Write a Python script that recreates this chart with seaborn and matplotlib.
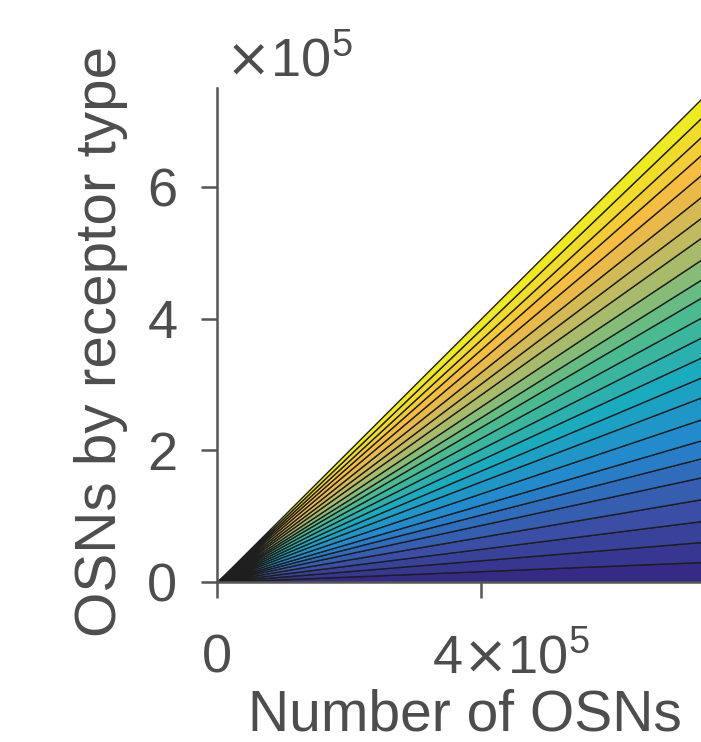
import matplotlib
matplotlib.use("Agg")
import matplotlib.pyplot as plt
import matplotlib.transforms as mtransforms
import numpy as np
import seaborn as sns

# total number of OSNs (x) at which the stacked shares are drawn
osn_total = [0, 250000, 500000, 750000]

# share of OSNs per receptor type, bottom band -> top band (percent)
receptor_share = [4.1, 4.1, 4.3, 4.5, 4.5, 3.9, 3.7, 4.3, 4.5, 4.1, 4.1, 4.1,
                  4.1, 4.1, 3.7, 4.1, 4.5, 4.1, 4.3, 4.5, 4.1, 3.7, 3.9, 3.9]

# parula-like colour anchors, bottom -> top
anchor_colors = ["#352a86", "#3a52a8", "#2487cf", "#16aac0",
                 "#4dbc8e", "#b3bb67", "#f7b843", "#eeeb21"]

x_ticks = [0, 400000]
x_tick_labels = ["0", r"$4\mathsf{\times}10^5$"]
y_ticks = [0, 200000, 400000, 600000]
y_tick_labels = ["0", "2", "4", "6"]

text_color = "#4d4d4d"

sns.set_theme(style="ticks")
plt.rcParams["font.family"] = ["Liberation Sans", "DejaVu Sans"]
plt.rcParams["mathtext.fontset"] = "custom"
plt.rcParams["mathtext.rm"] = "Liberation Sans"
plt.rcParams["mathtext.it"] = "Liberation Sans:italic"
plt.rcParams["mathtext.sf"] = "DejaVu Sans"
plt.rcParams["mathtext.default"] = "regular"

fig = plt.figure(figsize=(7.01, 7.42), dpi=100)
ax = fig.add_axes([217 / 701, 160 / 742, 495 / 701, 494 / 742])

share = np.array(receptor_share) / np.sum(receptor_share)
x = np.array(osn_total, dtype=float)
stacks = np.outer(share, x)
palette = sns.blend_palette(anchor_colors, n_colors=len(share))
ax.stackplot(x, stacks, colors=palette, edgecolor="#1e1e1e", linewidth=1.0)

ax.set_xlim(0, 750000)
ax.set_ylim(0, 750000)
sns.despine(ax=ax)
for side in ["left", "bottom"]:
    ax.spines[side].set_color("#555555")
    ax.spines[side].set_linewidth(1.8)

ax.set_yticks(y_ticks)
ax.set_yticklabels(y_tick_labels)
ax.set_xticks(x_ticks)
ax.set_xticklabels(x_tick_labels)
ax.tick_params(axis="both", direction="out", length=11.5, width=1.8,
               color="#555555", labelcolor=text_color, labelsize=39)
ax.tick_params(axis="y", pad=17)
ax.tick_params(axis="x", pad=54)
for lab in ax.get_xticklabels():
    lab.set_va("baseline")
shift = mtransforms.ScaledTranslation(0.30, 0, fig.dpi_scale_trans)
xl = ax.get_xticklabels()[1]
xl.set_transform(xl.get_transform() + shift)

ax.set_xlabel("Number of OSNs", fontsize=41, color=text_color)
ax.set_ylabel("OSNs by receptor type", fontsize=42, color=text_color)
ax.xaxis.set_label_coords(0.5, -0.215)
ax.yaxis.set_label_coords(-0.18, 0.486)

ax.annotate(r"$\mathsf{\times}10^5$", xy=(0, 1), xycoords="axes fraction",
            xytext=(6, 8), textcoords="offset points", ha="left",
            va="baseline", fontsize=39, color=text_color)

fig.savefig("out.png", dpi=100)
